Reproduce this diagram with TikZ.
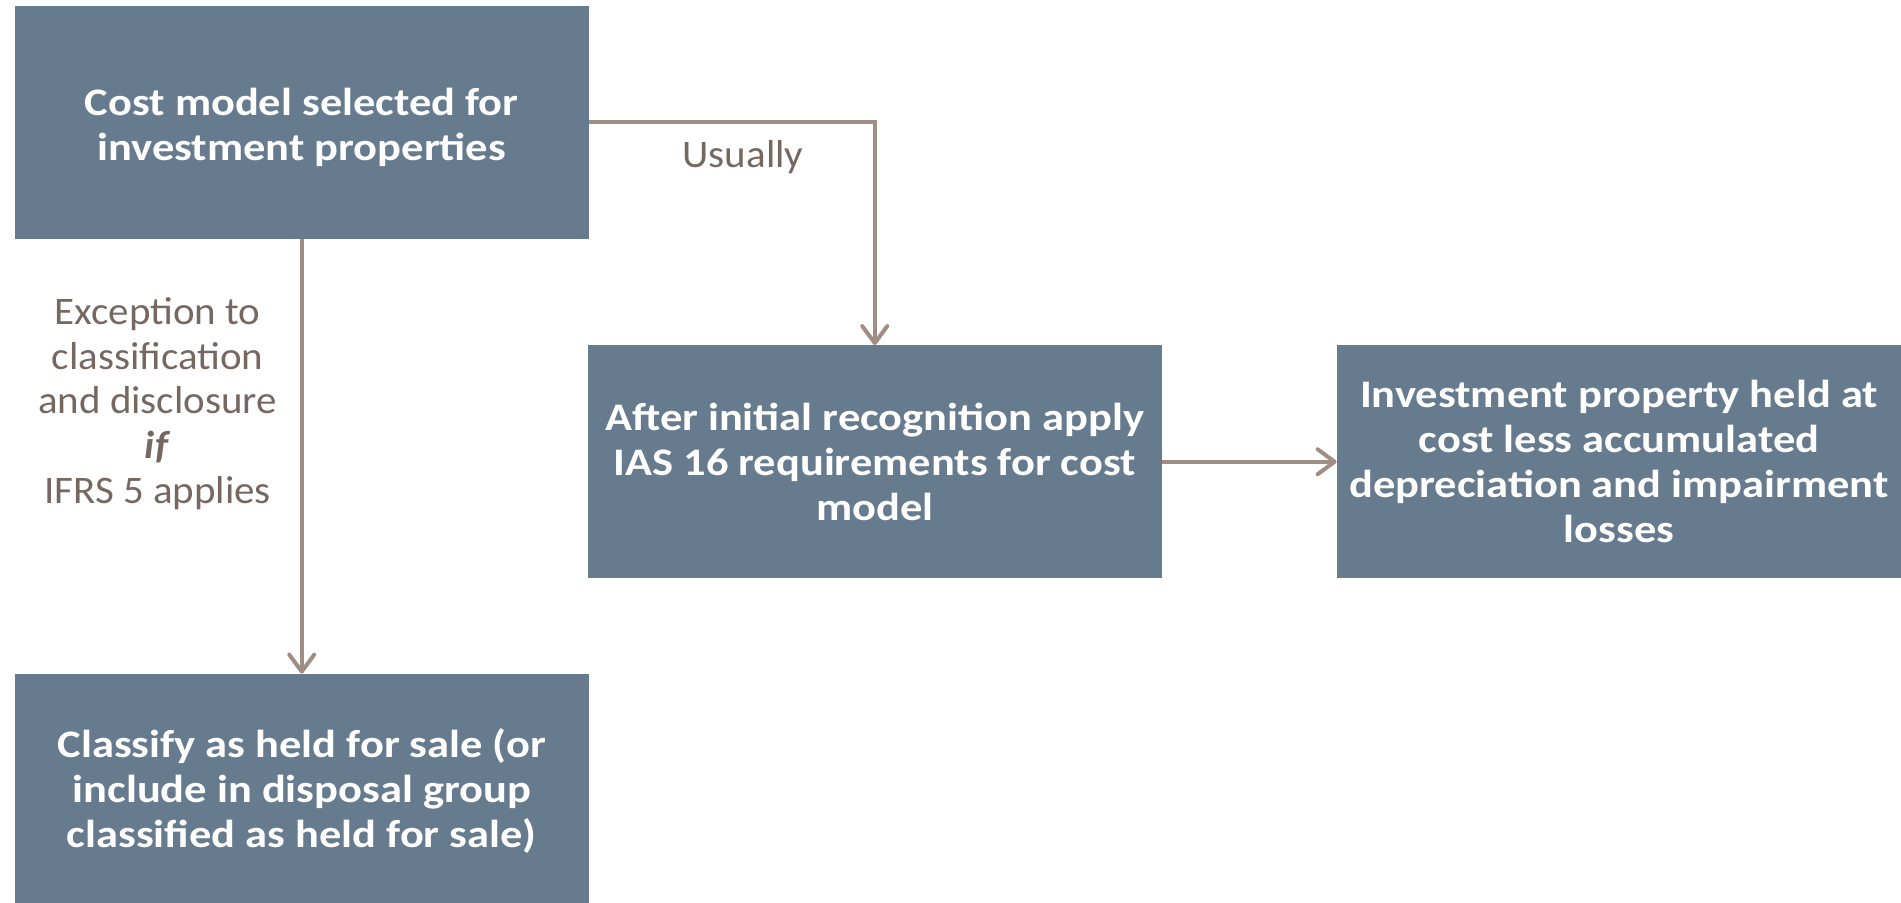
\documentclass[tikz,border=0pt]{standalone}
\usepackage{fontspec}
\setmainfont{Carlito}
\newfontfamily\boxface{Carlito}[FakeStretch=1.14]
\newfontfamily\tagface{Carlito}[FakeStretch=1.05]
\usetikzlibrary{arrows.meta}
\definecolor{boxfill}{RGB}{103,123,143}
\definecolor{linkcol}{RGB}{160,142,133}
\definecolor{labelcol}{RGB}{118,104,96}
\tikzset{
  stepbox/.style={fill=boxfill, text=white, inner sep=0pt, align=center,
    font=\boxface\fontsize{19.5}{22.5}\selectfont\bfseries},
  boxtext/.style={text=white, inner sep=0pt, align=center,
    font=\boxface\fontsize{19.5}{22.5}\selectfont\bfseries},
  link/.style={draw=linkcol, line width=2pt,
    -{Straight Barb[length=8.5pt,width=12.5pt,line cap=round,line join=round]}},
  tag/.style={text=labelcol, align=center, font=\tagface\fontsize{19.5}{22.4}\selectfont},
}
\begin{document}
\begin{tikzpicture}[x=0.5pt,y=-0.5pt]
\useasboundingbox (0,0) rectangle (1901,903);
% the four steps
\node[stepbox, minimum width=287.25pt, minimum height=116.5pt] (cost) at (301.75,122.5) {};
\node[boxtext] (costtext) at ([yshift=-2.5pt]cost.center)
  {Cost model selected for\\investment properties};
\node[stepbox, minimum width=286.75pt, minimum height=116.25pt] (ias) at (874.75,461.75)
  {After initial recognition apply\\IAS 16 requirements for cost\\model};
\node[stepbox, minimum width=282pt, minimum height=116.25pt] (held) at (1619,461.75)
  {Investment property held at\\cost less accumulated\\depreciation and impairment\\losses};
\node[stepbox, minimum width=287.25pt, minimum height=116.5pt] (sale) at (301.75,790.5)
  {Classify as held for sale (or\\include in disposal group\\classified as held for sale)};
% connectors
\draw[link] (cost.east) -| (ias.north);
\draw[link] (cost.south) -- (sale.north);
\draw[link] (ias.east) -- (held.west);
% connector labels
\node[tag] (usually) at (743,157.5) {Usually};
\node[tag] (except) at (157.6,403.5)
  {Exception to\\classification\\and disclosure\\\textbf{\textit{if}}\\IFRS 5 applies};
\end{tikzpicture}
\end{document}
